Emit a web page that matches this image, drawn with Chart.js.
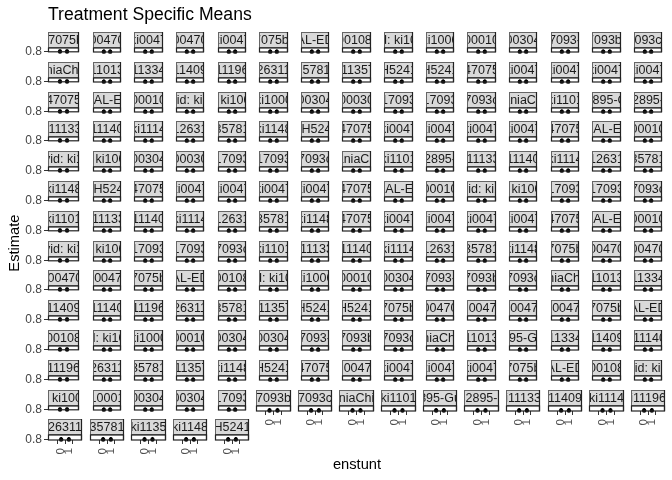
<!DOCTYPE html>
<html><head><meta charset="utf-8">
<script src="https://cdn.jsdelivr.net/npm/chart.js@4.4.1/dist/chart.umd.min.js"></script>
<style>
html,body{margin:0;padding:0;background:#fff;}
#wrap{position:relative;width:672px;height:480px;overflow:hidden;background:#fff;}
#wrap canvas{position:absolute;}
</style></head><body>
<div id="wrap"><canvas id="bg" width="672" height="480" style="left:0;top:0"></canvas></div>
<script>
// ---------- data ----------
const chartTitle = 'Treatment Specific Means';
const xTitle = 'enstunt';
const yTitle = 'Estimate';
const enstuntLevels = [0, 1];
const xTickLabels = ['0', '1'];
const estimate = [0.80, 0.80];
const lowerCI = [0.797, 0.797];
const upperCI = [0.82, 0.82];
const yBreaks = [0.8];
const yTickLabels = ['0.8'];
const stripLabels = [
  '-7075b','00470','ki0047','00470','ki0047','7075b-','AL-ED','00108-','d: ki10','ki1000','00010','00304','7093-','7093b-','7093c-l',
  'niaChi','11013','11334','11409','11196','26311','35781-','i11357','H5241','H5241','47075','ki0047','ki0047','ki0047','ki0047',
  '47075','MAL-ED','00010','yid: ki1',': ki100','ki1000','00304','00030','17093','17093','7093c','aniaCh','ki1101','2895-G','2895-',
  'i11133','11140','ki1114','12631','35781','ki1148','GH5241','47075','ki0047','ki0047','ki0047','ki0047','47075','MAL-ED','00010',
  'yid: ki1',': ki100','00304','00030','17093','17093','7093c','aniaCh','ki1101','2895-','i11133','11140','ki1114','12631','35781',
  'ki1148','GH5241','47075','ki0047','ki0047','ki0047','ki0047','47075','MAL-ED','00010','yid: ki1',': ki100','17093','17093','7093c',
  'ki1101','i11133','11140','ki1114','12631','35781','ki1148','47075','ki0047','ki0047','ki0047','ki0047','47075','MAL-ED','00010',
  'yid: ki1',': ki100','17093','17093','7093c','ki1101','i11133','11140','ki1114','12631','35781','ki1148','7075b','00470','00470',
  'i00470','ki00470','7075b','AL-ED','00108','d: ki10','ki1000','00010','00304','7093-','7093b','7093c','niaChi','11013','11334',
  '11409','11140','11196','26311','35781','i11357','H5241','H5241','7075b','00470','ki00470','ki00470','ki00470','7075b','AL-ED',
  '00108','d: ki10','ki1000','00010','00304','00304','7093-','7093b','7093c','niaChi','11013','895-Gu','11334','11409','i11140',
  '11196','26311','35781','i11357','ki1148','H5241','47075','ki00470','ki0047','ki0047','ki0047','7075b','AL-ED','00108','yid: ki1',
  ': ki100','10001','00304','00304','17093','7093b','7093c','niaChi','ki1101','895-Gu','2895-','i11133','11409','ki1114','i11196',
  '26311','35781','ki1135','ki1148','H5241'
];
const nCol = 15;

// ---------- style ----------
const FONT = '"Liberation Sans", Arial, Helvetica, sans-serif';
Chart.defaults.font.family = FONT;
Chart.defaults.animation = false;

// background chart: title + axis titles
new Chart(document.getElementById('bg'), {
  type: 'scatter',
  data: { datasets: [] },
  options: {
    responsive: false, events: [],
    layout: { padding: { right: 6 } },
    plugins: {
      legend: { display: false }, tooltip: { enabled: false },
      title: { display: true, text: chartTitle, align: 'start', fullSize: false,
        color: '#000', font: { size: 17.6, weight: 'normal' }, padding: { top: 5, bottom: 5 } }
    },
    scales: {
      x: { display: true, grid: { display: false }, border: { display: false }, ticks: { display: false },
        afterFit: s => { s.height = 25; },
        title: { display: true, text: xTitle, color: '#000', font: { size: 14.7 }, padding: { top: 0, bottom: 6 } } },
      y: { display: true, grid: { display: false }, border: { display: false }, ticks: { display: false },
        afterFit: s => { s.width = 48; },
        title: { display: true, text: yTitle, color: '#000', font: { size: 14.7 }, padding: { top: 6, bottom: 0 } } }
    }
  }
});

const STRIP_H = 16, PANEL_H = 5;
const stripPlugin = {
  id: 'strip',
  beforeDraw(chart, args, opts) {
    const { ctx, chartArea: a } = chart;
    const top = a.top - STRIP_H, w = a.right - a.left;
    ctx.save();
    ctx.fillStyle = '#ffffff';
    ctx.fillRect(a.left, a.top, w, a.bottom - a.top);
    ctx.fillStyle = '#d9d9d9';
    ctx.fillRect(a.left, top, w, STRIP_H);
    ctx.beginPath(); ctx.rect(a.left + 1, top, w - 2, STRIP_H); ctx.clip();
    ctx.fillStyle = '#1a1a1a';
    ctx.font = '12.5px ' + FONT;
    ctx.textAlign = 'center'; ctx.textBaseline = 'middle';
    ctx.fillText(opts.label, a.left + w / 2, top + STRIP_H / 2 + 0.5);
    ctx.restore();
  },
  afterDatasetsDraw(chart) {
    const { ctx, chartArea: a } = chart;
    const top = a.top - STRIP_H, w = a.right - a.left;
    ctx.save();
    ctx.strokeStyle = '#666'; ctx.lineWidth = 1;
    ctx.strokeRect(a.left + 0.5, top + 0.5, w - 1, STRIP_H - 1);
    ctx.strokeStyle = '#222'; ctx.lineWidth = 1.2;
    ctx.strokeRect(a.left + 0.5, a.top, w - 1, a.bottom - a.top);
    ctx.beginPath(); ctx.moveTo(a.right - 0.5, top); ctx.lineTo(a.right - 0.5, a.bottom); ctx.stroke();
    ctx.restore();
  }
};

const wrap = document.getElementById('wrap');
const PL = 48, PITCH_X = 41.64, PW = 34.4, PT = 32, PITCH_Y = 29.8;
stripLabels.forEach((lab, i) => {
  const r = Math.floor(i / nCol), c = i % nCol;
  const L = Math.round(PL + PITCH_X * c), R = Math.round(PL + PITCH_X * c + PW);
  const T = Math.round(PT + PITCH_Y * r);
  const isLeft = c === 0, isBottom = (i + nCol) >= stripLabels.length;
  const side = isBottom ? 8 : 1;
  const leftW = isLeft ? 30 : side;
  const botW = isBottom ? 28 : (isLeft ? 8 : 3);
  const cv = document.createElement('canvas');
  cv.width = leftW + (R - L) + side;
  cv.height = STRIP_H + PANEL_H + botW;
  cv.style.left = (L - leftW) + 'px';
  cv.style.top = T + 'px';
  wrap.appendChild(cv);
  new Chart(cv, {
    type: 'scatter',
    data: { datasets: [
      { type: 'bar', data: enstuntLevels.map((x, k) => ({ x: x, y: [lowerCI[k], upperCI[k]] })),
        backgroundColor: '#000', barThickness: 1, grouped: false, clip: false },
      { type: 'scatter', data: enstuntLevels.map((x, k) => ({ x: x, y: estimate[k] })),
        backgroundColor: '#000', borderColor: '#000', pointRadius: 2.2, borderWidth: 0, clip: false }
    ] },
    options: {
      responsive: false, events: [],
      layout: { padding: { top: STRIP_H, left: isLeft ? 0 : side, right: side, bottom: isBottom ? 0 : botW } },
      plugins: { legend: { display: false }, tooltip: { enabled: false }, title: { display: false },
        strip: { label: lab } },
      scales: {
        x: { type: 'linear', min: -0.6, max: 1.6, display: isBottom,
          afterBuildTicks: s => { s.ticks = enstuntLevels.map(v => ({ value: v })); },
          afterFit: s => { if (isBottom) s.height = 28; },
          grid: { display: true, drawOnChartArea: false, drawTicks: true, tickLength: 4, color: '#333' },
          border: { display: false },
          ticks: { autoSkip: false, minRotation: 90, maxRotation: 90, padding: 4,
            color: '#4d4d4d', font: { size: 11.7 }, callback: (v) => xTickLabels[enstuntLevels.indexOf(v)] } },
        y: { type: 'linear', min: 0.796, max: 0.84, display: isLeft,
          afterBuildTicks: s => { s.ticks = yBreaks.map(v => ({ value: v })); },
          afterFit: s => { if (isLeft) s.width = 30; },
          grid: { display: true, drawOnChartArea: false, drawTicks: true, tickLength: 4, color: '#333' },
          border: { display: false },
          ticks: { autoSkip: false, padding: 2, color: '#444', font: { size: 12 },
            callback: (v) => yTickLabels[yBreaks.indexOf(v)] } }
      }
    },
    plugins: [stripPlugin]
  });
});
</script>
</body></html>
